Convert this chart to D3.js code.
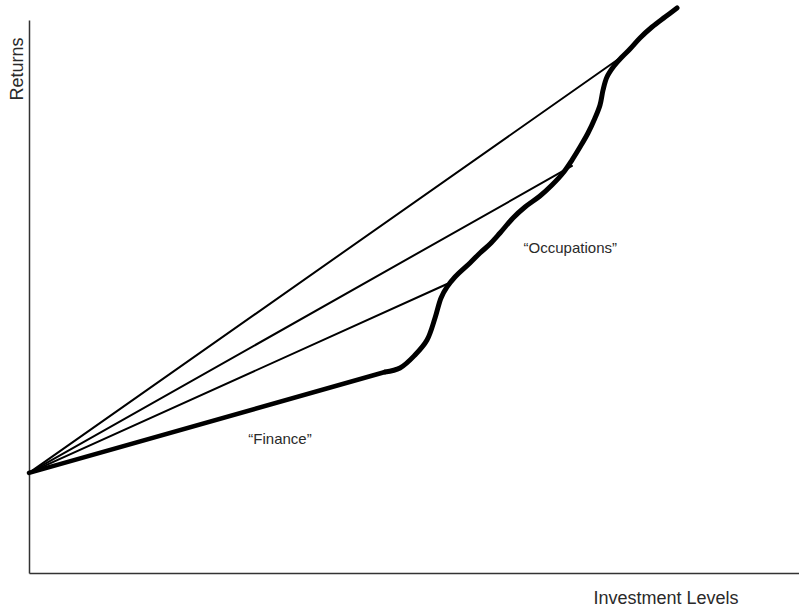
<!DOCTYPE html>
<html>
<head>
<meta charset="utf-8">
<script src="https://cdn.jsdelivr.net/npm/d3@7"></script>
<style>
html,body{margin:0;padding:0;background:#fff;}
svg{display:block;}
text{font-family:"Liberation Sans",Arial,Helvetica,sans-serif;fill:#2a2a2a;}
</style>
</head>
<body>
<svg id="chart" width="799" height="611"></svg>
<script>
// Origin of all rays (data units, 0-100 on both axes)
const originX = 0;
const originY = 18.1;

// End points of the thin rays (x, y)
const rayX = [76.75, 70.52, 54.29];
const rayY = [93.13, 73.60, 52.26];

// "Finance" straight thick segment end
const financeX = [0, 46.23];
const financeY = [18.1, 36.35];

// "Occupations" curve
const curveX = [46.23, 48.18, 50.13, 51.69, 52.73, 53.51, 54.29, 55.32, 57.27, 58.57, 59.87, 61.17, 62.86, 64.42, 66.36, 67.92, 69.35, 70.52, 71.56, 72.60, 73.51, 74.16, 74.55, 75.06, 75.97, 77.01, 78.05, 79.35, 80.91, 82.60, 84.16];
const curveY = [36.35, 37.07, 39.42, 42.13, 46.11, 49.73, 51.72, 53.53, 56.06, 57.87, 59.49, 61.48, 64.20, 66.18, 68.17, 70.16, 72.33, 74.68, 77.03, 79.57, 82.28, 84.63, 87.34, 89.69, 91.68, 93.31, 94.76, 96.75, 98.73, 100.54, 102.17];

const labels = ["\u201CFinance\u201D", "\u201COccupations\u201D"];
const labelX = [32.6, 70.3];
const labelY = [23.3, 57.9];

const xTitle = "Investment Levels";
const yTitle = "Returns";

const svg = d3.select("#chart");
const x = d3.scaleLinear().domain([0, 100]).range([29, 799]);
const y = d3.scaleLinear().domain([0, 100]).range([573, 20]);

// axes
svg.append("g").attr("transform", `translate(0,${y(0)})`)
  .call(d3.axisBottom(x).ticks(0).tickSize(0).tickSizeOuter(0))
  .call(g => g.select(".domain").attr("stroke", "#333").attr("stroke-width", 1.5));
svg.append("g").attr("transform", `translate(${x(0)},0)`)
  .call(d3.axisLeft(y).ticks(0).tickSize(0).tickSizeOuter(0))
  .call(g => g.select(".domain").attr("stroke", "#333").attr("stroke-width", 1.5));

// rays
rayX.forEach((rx, i) => {
  svg.append("line")
    .attr("x1", x(originX)).attr("y1", y(originY))
    .attr("x2", x(rx)).attr("y2", y(rayY[i]))
    .attr("stroke", "#000").attr("stroke-width", 2).attr("stroke-linecap", "round");
});

// finance thick segment
const line = d3.line().x(d => x(d[0])).y(d => y(d[1]));
svg.append("path")
  .attr("d", line(financeX.map((v, i) => [v, financeY[i]])))
  .attr("fill", "none").attr("stroke", "#000").attr("stroke-width", 4.5).attr("stroke-linecap", "round");

// occupations curve
const curveLine = d3.line().x(d => x(d[0])).y(d => y(d[1])).curve(d3.curveCatmullRom.alpha(0.5));
svg.append("path")
  .attr("d", curveLine(curveX.map((v, i) => [v, curveY[i]])))
  .attr("fill", "none").attr("stroke", "#000").attr("stroke-width", 5).attr("stroke-linecap", "round").attr("stroke-linejoin", "round");

// labels
labels.forEach((t, i) => {
  svg.append("text").attr("x", x(labelX[i])).attr("y", y(labelY[i]))
    .attr("text-anchor", "middle").attr("font-size", 15).text(t);
});

svg.append("text").attr("x", 666).attr("y", 604)
  .attr("text-anchor", "middle").attr("font-size", 18).text(xTitle);
svg.append("text").attr("transform", "translate(23,69) rotate(-90)")
  .attr("text-anchor", "middle").attr("font-size", 18).text(yTitle);
</script>
</body>
</html>
